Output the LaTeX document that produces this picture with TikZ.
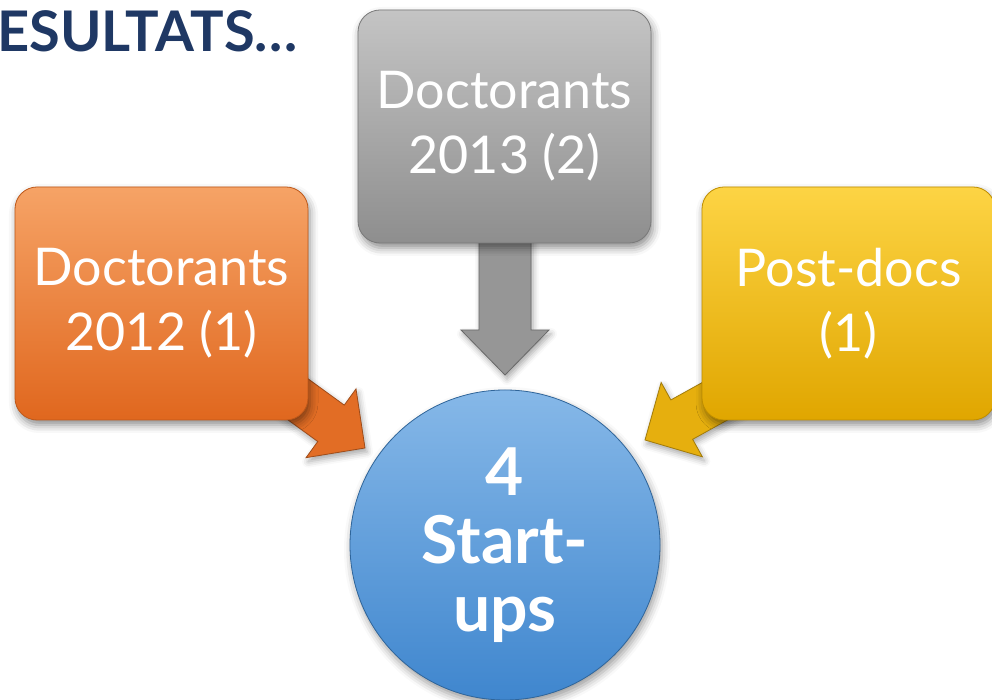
\documentclass[tikz,border=0pt]{standalone}
\usepackage{fontspec}
\setmainfont{Lato}
\usetikzlibrary{shadows.blur}
\definecolor{orangeT}{HTML}{F6A366}
\definecolor{orangeB}{HTML}{E0671E}
\definecolor{grayT}{HTML}{C4C4C4}
\definecolor{grayB}{HTML}{8E8E8E}
\definecolor{yelT}{HTML}{FDD444}
\definecolor{yelB}{HTML}{E0A600}
\definecolor{blueT}{HTML}{86B8E8}
\definecolor{blueB}{HTML}{3F86CE}
\definecolor{navy}{HTML}{1F3864}
\tikzset{
  box/.style={rounded corners=22pt, minimum width=293pt, minimum height=233pt,
    inner sep=0pt, align=center, text=white, font=\fontsize{52}{65}\selectfont,
    blur shadow={shadow xshift=2pt, shadow yshift=-5pt, shadow blur radius=8pt, shadow opacity=45},
    draw=#1B!85!black, line width=0.8pt, top color=#1T, bottom color=#1B},
  arrowfill/.style={fill=#1, draw=#1!70!black, line width=0.8pt,
    blur shadow={shadow xshift=2pt, shadow yshift=-4pt, shadow blur radius=6pt, shadow opacity=35}},
}
\newcommand{\blockarrow}[7]{% #1 tip, #2 angle, #3 length, #4 head length, #5 head width, #6 shaft width, #7 colour
  \begin{scope}[shift={(#1)}, rotate=#2]
    \path[arrowfill=#7] (0,0) -- (-#4,#5/2) -- (-#4,#6/2) -- (-#3,#6/2) -- (-#3,-#6/2)
      -- (-#4,-#6/2) -- (-#4,-#5/2) -- cycle;
  \end{scope}}
\begin{document}
\begin{tikzpicture}[x=1pt,y=1pt]
  \useasboundingbox (0,0) rectangle (992,700);
  \node[anchor=base west, text=navy, font=\bfseries\fontsize{56}{60}\selectfont, inner sep=0pt]
    (title) at (-3,648) {ESULTATS…};
  % arrow tips
  \coordinate (t12) at (365,252);
  \coordinate (t13) at (505,325);
  \coordinate (tpd) at (645,260);
  \blockarrow{t12}{-36}{200}{42}{85}{45}{orangeB!90!orangeT}
  \blockarrow{t13}{-90}{250}{45}{88}{52}{grayB!85!grayT}
  \blockarrow{tpd}{-151}{200}{42}{85}{45}{yelB!80!yelT}
  \node[box=orange] (b12) at (161.5,396.5) {Doctorants\\2012 (1)};
  \node[box=gray]   (b13) at (504.5,573.5) {Doctorants\\2013 (2)};
  \node[box=yel]    (bpd) at (848.5,396.5) {Post-docs\\(1)};
  \node[circle, minimum size=310pt, inner sep=0pt, top color=blueT, bottom color=blueB,
    draw=blueB!75!black, line width=0.8pt, text=white, align=center,
    font=\bfseries\fontsize{66}{68}\selectfont,
    blur shadow={shadow xshift=2pt, shadow yshift=-5pt, shadow blur radius=8pt, shadow opacity=40}]
    (su) at (505,155) {4\\Start-\\ups};
\end{tikzpicture}
\end{document}
